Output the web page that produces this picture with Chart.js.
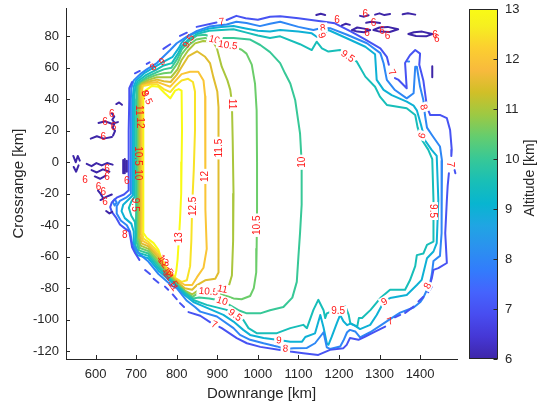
<!DOCTYPE html>
<html>
<head>
<meta charset="utf-8">
<title>Altitude contours</title>
<script src="https://cdn.jsdelivr.net/npm/chart.js@4.4.1/dist/chart.umd.min.js"></script>
<style>
  html, body { margin: 0; padding: 0; background: #fff; }
  #wrap { position: relative; width: 539px; height: 409px; overflow: hidden; }
  #wrap canvas { position: absolute; top: 0; }
  #plot { left: 0; }
  #cbar { left: 440px; }
</style>
</head>
<body>
<div id="wrap">
  <canvas id="plot" width="539" height="409"></canvas>
  <canvas id="cbar" width="99" height="409"></canvas>
</div>
<script>
// axes
const xRange = [527, 1491];
const yRange = [-125, 98];
const xTicks = [600, 700, 800, 900, 1000, 1100, 1200, 1300, 1400];
const yTicks = [-120, -100, -80, -60, -40, -20, 0, 20, 40, 60, 80];
const colorTicks = [6, 7, 8, 9, 10, 11, 12, 13];
const levels = [6, 7, 8, 9, 9.5, 10, 10.5, 11, 11.5, 12, 12.5, 13];

// contour paths, [downrange km, crossrange km]; null breaks a path
const lv6Left = [
  [545,4],[551,0],[556,4],[561,1], null,
  [546,-3],[552,-6],[558,-2], null,
  [578,-1],[590,-2.5],[602,-0.5],[615,-2],[628,-0.5],[642,-1.5], null,
  [590,-5],[603,-6.5],[618,-4.5],[634,-6], null,
  [598,-9],[611,-10.5],[625,-8.5], null,
  [588,15],[603,16.5],[620,15],[640,16], null,
  [607,25],[624,26],[640,24.5],[655,25.5], null,
  [640,31],[646,29],[641,27],[647,25],[642,22],[648,20],[643,17], null,
  [651,37],[658,38],[665,36.5], null,
  [668,1.5],[668,-7], null,
  [672,2],[672,-7], null,
  [677,1],[677,-6], null,
  [606,-18],[612,-20],[617,-22], null,
  [612,-24],[626,-22],[640,-20.5], null,
  [626,-31],[634,-32.5],[641,-31.5]
];
const lv6Top = [
  [1144,93.5],[1155,94.3],[1166,93.6], null,
  [1207,87],[1217,88],[1227,87.3], null,
  [1252,93],[1262,92.5],[1273,93.4], null,
  [1289,93.8],[1300,94.6],[1312,93.5],[1326,94.2], null,
  [1357,94],[1370,94.6],[1388,93.8], null,
  [1267,88.6],[1280,89.2],[1301,88.4], null,
  [1232,84],[1245,85.6],[1262,84.9],[1277,84],[1262,82.6],[1245,83],[1232,84], null,
  [1285,84],[1300,85.6],[1320,86],[1346,84.5],[1325,82.8],[1300,83],[1285,84], null,
  [1371,81.5],[1385,82.6],[1405,83],[1430,81.5],[1415,80],[1390,80.2],[1371,81.5], null,
  [1430,61],[1430,54]
];
const lv7 = [
  [683,40],[683,47],[690,51], null,
  [697,56.5],[709,58], null,
  [726,62.5],[733,63.5], null,
  [767,72],[784,75], null,
  [808,80.3],[825,82.3], null,
  [849,86],[898,88.8], null,
  [923,90.4],[947,93],[970,91.5],[1000,90.5],[1030,92.5],[1055,92.8],[1100,91.5],[1150,89.8],[1190,88.3],[1230,83],[1260,78.7],[1302,72.4],[1318,67],[1323,62], null,
  [1338,53.5],[1347,52.3],[1367,47],[1363,63],[1375,68],[1388,71.3],[1400,69],[1398,62],[1408,52],[1417,35],[1425,30],[1450,30],[1466,28],[1474,20.5],[1478,8],[1477,4], null,
  [1471,-7],[1468,-15],[1466,-24],[1462,-45],[1466,-64],[1445,-67.3],[1433,-68.4],[1429,-73.6],[1426,-76], null,
  [1429,-79],[1420,-82.5], null,
  [1408,-85.5],[1396,-88.5], null,
  [1384,-91.7],[1363,-95.7], null,
  [1351,-97],[1338,-98.5], null,
  [1314,-104.4],[1289,-107.6],[1265,-110.7],[1248,-112.8],[1227,-111.7],[1219,-116],[1211,-118.1],[1178,-119.2],[1149,-122.4],[1112,-121.3],[1080,-120.3],[1063,-119.6],[1006,-117.3],[973,-115],[948,-111.7],[911,-105.4],[905,-104.6], null,
  [882,-101.6],[858,-97.5],[829,-95.2], null,
  [818,-92],[808,-89.5], null,
  [800,-87],[790,-84], null,
  [779,-81],[771,-79], null,
  [755,-76.5],[743,-74], null,
  [734,-71],[722,-68.5], null,
  [708,-62],[698,-58],[690,-54],[686,-48],[683,-44],[672,-42],[660,-39.5],[650,-35],[640,-31.5],[636,-28.5],[640,-25.5],[652,-22.5],[670,-20.5],[681,-18],[681,0],[682,20],[683,40]
];
const lv7Dots = [[1485,-5],[1487,-7]];
const lv8 = [
  [687,40],[688,47],[694,52],[710,56],[726,59],[751,63],[784,71.3],[800,75.6],[825,79.8],[850,83.5],[880,86.2],[923,87.5],[947,89.3],[972,88.5],[1005,86.5],[1030,88],[1055,89.3],[1100,86],[1137,84],[1160,85.5],[1178,85.2],[1220,81],[1269,75.6],[1302,69.3],[1310,62.9],[1318,52.3],[1338,45.9],[1367,40.6],[1384,43.8],[1388,60.7],[1392,60.7],[1400,47.9],[1408,39.6],[1412,30],[1417,22],[1430,17],[1449,10],[1454,1],[1454,-24],[1452,-45],[1449,-59.5],[1433,-62.7],[1429,-71],[1425,-76.4],[1417,-81],[1408,-86],[1400,-89],[1384,-92.3],[1351,-95.5],[1326,-99.7],[1301,-104],[1277,-108],[1252,-111.3],[1240,-107.5],[1227,-106.5],[1220,-108],[1211,-113.3],[1203,-117],[1178,-118.6],[1170,-117.6],[1162,-108],[1154,-110.7],[1141,-115],[1121,-118],[1088,-118.1],[1067,-118.6],[1047,-117],[1014,-115],[981,-112.8],[956,-109.7],[940,-105.4],[899,-98],[858,-94.9],[845,-92],[825,-88],[800,-80],[788,-78.5],[755,-71],[730,-63.1],[706,-57.8],[690,-51.5],[685,-44],[677,-40],[662,-37],[652,-32.5],[652,-28],[660,-24.5],[675,-22.5],[687,-20],[687,0],[687,40]
];
const lv8Extra = [[642,-25],[647,-23.5],[652,-25.5],[647,-27.5],[642,-25], null, [1370,64],[1373,64]];
const lv9 = [
  [692,40],[692,42],[694,48],[700,52],[722,57],[745,60.5],[768,64],[790,67],[806,73],[812,76],[830,80.5],[850,82.5],[880,85],[910,86],[940,86.5],[970,85],[1000,83.5],[1030,83],[1055,84],[1100,83],[1133,81.9],[1145,79.7],[1158,80.8],[1174,84],[1200,81],[1230,77.5],[1265,73.4],[1289,68.6],[1293,52.3],[1310,46],[1330,42.7],[1367,38.5],[1384,36],[1392,33],[1402,24],[1412,14],[1428,8],[1441,4],[1445,-24],[1441,-51.4],[1433,-56.7],[1417,-61],[1404,-74.7],[1392,-78],[1367,-84.3],[1326,-86.3],[1312,-88],[1293,-97],[1277,-103.3],[1252,-106],[1240,-104],[1228,-102.5],[1220,-103.5],[1211,-101],[1203,-97],[1195,-102],[1182,-111],[1174,-116],[1170,-115],[1162,-105],[1154,-97],[1141,-108.7],[1117,-111],[1109,-114],[1080,-114],[1052,-113],[1014,-111.7],[981,-109.7],[964,-106.5],[940,-101.2],[915,-97],[866,-91.6],[841,-88.8],[820,-84.5],[796,-78.1],[776,-73.7],[755,-68.9],[730,-61],[703,-59],[694,-54],[694,-44],[688,-39],[672,-35.5],[664,-31],[668,-27],[680,-24],[692,-21],[692,0],[692,40]
];
const lv9_5 = [
  [696,40],[696,43],[698,48],[704,51.5],[725,55.5],[748,58.5],[768,61.5],[788,63],[803,69],[812,73.5],[829,78],[850,81.5],[880,83.5],[910,84],[940,84.5],[970,82.5],[1000,80.5],[1030,79],[1055,80],[1104,75],[1133,71.3],[1145,76.6],[1158,72.4],[1174,70.3],[1203,71.3],[1223,67],[1244,63.9],[1265,54.4],[1289,48],[1301,41.7],[1318,36.4],[1367,34.3],[1388,30],[1394,22],[1405,14],[1420,8],[1430,2],[1433,-24],[1433,-50.4],[1417,-52.5],[1408,-58],[1392,-59],[1388,-66],[1375,-75],[1363,-81],[1326,-81],[1302,-86.3],[1278,-93.8],[1257,-99],[1249,-99],[1245,-104.4],[1228,-102.2],[1224,-97],[1216,-91.6],[1198,-94.4],[1180,-95],[1170,-96],[1166,-99],[1162,-94],[1149,-87.4],[1137,-93.8],[1121,-105.4],[1112,-103.3],[1080,-105.4],[1047,-108.6],[997,-108.6],[977,-105.4],[964,-100.1],[944,-97],[923,-93.8],[874,-90.6],[841,-87.5],[820,-83.3],[796,-77.5],[776,-72.9],[755,-67.2],[730,-59.5],[705,-57.5],[697,-52],[699,-46],[697,-38],[688,-34],[682,-29],[688,-25],[696,-22],[696,0],[696,40]
];
const lv10 = [
  [700,40],[700,44],[702,48.5],[708,51],[728,54.5],[749,57],[768,59],[787,60],[802,66],[812,71.5],[830,77],[850,80.5],[870,81],[894,78.5],[910,79],[940,79],[980,78],[1006,74.5],[1030,70],[1055,63],[1067,56.5],[1080,50],[1092,39.6],[1104,18.4],[1108,0],[1108,-27],[1104,-45],[1100,-60],[1096,-76],[1085,-86],[1063,-92],[1030,-94],[1006,-96],[973,-96],[952,-94],[932,-91],[912,-88],[880,-86.5],[855,-86],[840,-86.5],[820,-82.8],[796,-76.9],[776,-72.1],[755,-65.6],[730,-58],[707,-56],[699,-49],[700,-30],[700,0],[700,40]
];
const lv10_5 = [
  [703,40],[703,45],[705,49],[711,51],[730,53.5],[750,55.5],[768,56.5],[786,57],[802,63],[812,68.5],[830,74.5],[848,78],[870,79],[900,76],[926,74.5],[945,73],[960,71.5],[972,69],[985,62],[993,50],[997,33],[998,0],[998,-30],[997,-55],[996,-70],[990,-80],[981,-85],[960,-87],[940,-86.5],[923,-85],[903,-83],[878,-82],[853,-83],[839,-85.5],[820,-82],[796,-76.3],[776,-71.3],[755,-64],[730,-56.5],[709,-54.5],[702,-48],[703,-30],[703,0],[703,40]
];
const lv11 = [
  [706,40],[706,45.5],[708,49.5],[714,50.5],[732,52.5],[751,54],[768,54],[786,54],[802,59],[812,65],[828,71],[845,75.5],[865,77],[890,76.6],[899,72.4],[911,60.7],[925,52],[932,46],[936,38],[938,14],[940,-20],[939,-50],[936,-72],[928,-79],[913,-81],[880,-80],[852,-81.5],[838,-84],[820,-81.5],[796,-75.6],[776,-70.5],[755,-62.3],[730,-55],[711,-53],[705,-47],[706,-30],[706,0],[706,40]
];
const lv11_5 = [
  [709,40],[709,46],[711,49.5],[716,50],[734,51.5],[752,52.5],[768,51.5],[785,51],[800,55.5],[812,60.5],[829,67.5],[850,70.5],[870,67],[882,63],[890,54.4],[900,45],[903,35],[903,10],[903,-20],[903,-50],[903,-70],[895,-74],[870,-75],[850,-78],[838,-81],[820,-80],[796,-74.9],[776,-69.7],[755,-60.6],[730,-53.5],[713,-51.5],[708,-46],[709,-30],[709,0],[709,40]
];
const lv12 = [
  [712,40],[712,46.5],[714,49],[718,49.5],[736,50.5],[752,51],[768,49.5],[784,48],[798,52],[812,56],[833,57.5],[853,57.5],[866,52],[870,42],[870,10],[870,-9],[872,-30],[874,-55],[866,-67],[850,-73],[838,-78],[820,-78],[796,-74.2],[776,-69],[755,-59],[730,-52],[716,-50],[711,-45],[712,-30],[712,0],[712,40]
];
const lv12_5 = [
  [715,40],[715,46.5],[717,48.5],[738,49.5],[752,49.5],[768,46.5],[784,44.6],[797,48.5],[812,52],[828,53],[840,51],[845,45],[845,20],[842,-5],[838,-28],[836,-50],[833,-66],[825,-75],[812,-76],[796,-73.5],[776,-68.3],[755,-57.3],[730,-50.5],[718,-48.5],[714,-44],[715,-30],[715,0],[715,40]
];
const lv13 = [
  [718,40],[720,45],[739,48.5],[755,48],[770,44],[784,40.6],[796,45.5],[805,46.5],[812,45.5],[813,20],[812,0],[811,-20],[808,-37],[805,-50],[802,-62],[799,-69],[796,-72.6],[788,-71.6],[776,-67.3],[763,-62],[755,-55.7],[743,-51.4],[726,-48],[718,-45],[717,-30],[718,0],[718,40]
];

const contourPaths = {
  6: [lv6Left, lv6Top],
  7: [lv7, lv7Dots],
  8: [lv8, lv8Extra],
  9: [lv9],
  9.5: [lv9_5],
  10: [lv10],
  10.5: [lv10_5],
  11: [lv11],
  11.5: [lv11_5],
  12: [lv12],
  12.5: [lv12_5],
  13: [lv13]
};

// inline contour labels: level, x km, y km, rotation (deg), clear line under text
const labelSpots = [
  [7, 911, 89.5, -6, 0], [7, 1331, 57, 62, 0], [7, 1474, -1.5, 90, 0], [7, 1326, -101, -22, 0], [7, 893, -103, 24, 0],
  [8, 742, 60.5, -35, 0], [8, 1160, 85.5, -5, 1], [8, 1409, 35, 75, 1], [8, 1418, -78.5, -62, 1], [8, 1068, -118.3, 3, 1],
  [9, 764, 64, -30, 0], [9, 1158, 80.5, 70, 1], [9, 1404, 17, 110, 1], [9, 1312, -88.5, -30, 1], [9, 1052, -113, 2, 1],
  [9.5, 829, 77, -60, 0], [9.5, 1222, 67.5, 35, 1], [9.5, 1432, -31, 90, 1], [9.5, 1198, -94.4, 0, 1], [9.5, 944, -97, 35, 1], [9.5, 697, -27, 90, 0],
  [10, 893, 78, 15, 1], [10, 1109, 0, -90, 1], [10, 912, -88, 18, 1], [10, 704, -8, 90, 0],
  [10.5, 926, 74.5, 8, 1], [10.5, 998, -40, -90, 1], [10.5, 878, -82, 5, 1], [10.5, 704, 4, 90, 0],
  [11, 937, 37, 90, 1], [11, 913, -80.5, 12, 1], [11, 707, 33, 90, 0],
  [11.5, 903, 9, -90, 1],
  [12, 870, -9, -90, 1], [12, 711, 25, 90, 0],
  [12.5, 839, -28, -90, 1],
  [13, 806, -48, -90, 1],
  [13, 767, -62, 55, 0], [12.5, 773, -66, 55, 0], [12, 779, -70, 55, 0], [11.5, 785, -74, 55, 0], [11, 792, -78.5, 55, 0],
  [9.5, 727, 41, 65, 0], [8, 722, 44, 65, 0], [8, 672, -46, 0, 0],
  [6, 640, 31, 0, 0], [6, 623, 26, 0, 0], [6, 644, 22.5, 0, 0], [6, 619, 16, 0, 0], [6, 574, -11, 0, 0],
  [6, 607, -15.5, 0, 0], [6, 619, -19, 0, 0], [6, 623, -25, 0, 0], [6, 677, -12, 0, 0], [6, 628, -4, 0, 0], [6, 628, -9, 0, 0],
  [6, 1195, 90.4, 0, 0], [6, 1265, 94.2, 0, 0], [6, 1285, 88.7, 0, 0], [6, 1269, 82.3, 0, 0], [6, 1306, 83.6, 0, 0],
  [6, 1320, 80.4, 0, 0], [6, 1437, 81, 0, 0], [6, 1441, 78.5, 0, 0]
];

// parula colormap samples: position, r, g, b
const parulaStops = [
  [0.000, 62, 38, 168], [0.063, 69, 55, 213], [0.127, 72, 77, 240], [0.190, 69, 99, 253],
  [0.254, 50, 124, 252], [0.317, 43, 145, 239], [0.381, 32, 165, 227], [0.444, 8, 181, 208],
  [0.508, 25, 191, 182], [0.571, 55, 200, 151], [0.635, 100, 205, 111], [0.698, 157, 201, 67],
  [0.762, 209, 191, 39], [0.825, 248, 186, 61], [0.889, 252, 207, 48], [0.952, 246, 239, 32],
  [1.000, 249, 251, 21]
];

const ink = '#262626';
const labelRed = 'rgb(255,25,25)';
Chart.defaults.font.family = '"Liberation Sans", Arial, Helvetica, sans-serif';
Chart.defaults.color = ink;

function parula(t) {
  t = Math.min(1, Math.max(0, t));
  for (let i = 1; i < parulaStops.length; i++) {
    const a = parulaStops[i - 1], b = parulaStops[i];
    if (t <= b[0]) {
      const f = (t - a[0]) / (b[0] - a[0]);
      const c = [1, 2, 3].map(k => Math.round(a[k] + (b[k] - a[k]) * f));
      return `rgb(${c[0]},${c[1]},${c[2]})`;
    }
  }
  return 'rgb(249,251,21)';
}
const cMin = colorTicks[0], cMax = colorTicks[colorTicks.length - 1];
const levelColor = v => parula((v - cMin) / (cMax - cMin));

function toPoints(path) {
  return path.map(p => p ? { x: p[0], y: p[1] } : { x: 0, y: null });
}

// keep tick labels from pushing the plot box inward
function noEdgePadding(s) {
  s.paddingTop = 0;
  s.paddingBottom = 0;
  s.paddingLeft = 0;
  s.paddingRight = 0;
}

const datasets = [];
levels.forEach(lv => {
  contourPaths[lv].forEach(path => {
    datasets.push({
      data: toPoints(path),
      showLine: true,
      spanGaps: false,
      borderColor: levelColor(lv),
      borderWidth: 2,
      borderJoinStyle: 'round',
      borderCapStyle: 'round',
      pointRadius: 0,
      pointHoverRadius: 0,
      tension: 0
    });
  });
});

const inwardTicks = {
  id: 'inwardTicks',
  afterDraw(chart) {
    const { ctx, chartArea: a, scales: { x, y } } = chart;
    ctx.save();
    ctx.strokeStyle = ink;
    ctx.lineWidth = 1;
    ctx.beginPath();
    x.ticks.forEach(t => {
      const px = Math.round(x.getPixelForValue(t.value)) + 0.5;
      ctx.moveTo(px, a.bottom);
      ctx.lineTo(px, a.bottom - 4);
    });
    y.ticks.forEach(t => {
      const py = Math.round(y.getPixelForValue(t.value)) + 0.5;
      ctx.moveTo(a.left, py);
      ctx.lineTo(a.left + 4, py);
    });
    ctx.stroke();
    ctx.restore();
  }
};

const contourLabels = {
  id: 'contourLabels',
  afterDatasetsDraw(chart) {
    const { ctx, scales: { x, y } } = chart;
    ctx.save();
    ctx.font = '10px "Liberation Sans", Arial, sans-serif';
    ctx.textAlign = 'center';
    ctx.textBaseline = 'middle';
    labelSpots.forEach(([lv, kx, ky, ang, clear]) => {
      const txt = String(lv);
      ctx.save();
      ctx.translate(x.getPixelForValue(kx), y.getPixelForValue(ky));
      ctx.rotate(ang * Math.PI / 180);
      if (clear) {
        const w = ctx.measureText(txt).width;
        ctx.fillStyle = '#fff';
        ctx.fillRect(-w / 2 - 2, -5, w + 4, 10);
      }
      ctx.fillStyle = labelRed;
      ctx.fillText(txt, 0, 0.5);
      ctx.restore();
    });
    ctx.restore();
  }
};

new Chart(document.getElementById('plot'), {
  type: 'scatter',
  data: { datasets },
  options: {
    responsive: false,
    animation: false,
    events: [],
    layout: { padding: { top: 8, right: 82, bottom: 0, left: 0 } },
    plugins: { legend: { display: false }, tooltip: { enabled: false } },
    scales: {
      x: {
        type: 'linear',
        min: xRange[0],
        max: xRange[1],
        afterBuildTicks: s => { s.ticks = xTicks.map(v => ({ value: v })); },
        afterFit: s => { s.height = 50; noEdgePadding(s); },
        grid: { display: false, drawTicks: false },
        border: { display: true, color: ink, width: 1 },
        ticks: { color: ink, font: { size: 13 }, padding: 8, maxRotation: 0, autoSkip: false, callback: v => String(v) },
        title: { display: true, text: 'Downrange [km]', color: ink, font: { size: 15 }, padding: { top: 0, bottom: 6 } }
      },
      y: {
        type: 'linear',
        min: yRange[0],
        max: yRange[1],
        afterBuildTicks: s => { s.ticks = yTicks.map(v => ({ value: v })); },
        afterFit: s => { s.width = 66; noEdgePadding(s); },
        grid: { display: false, drawTicks: false },
        border: { display: true, color: ink, width: 1 },
        ticks: { color: ink, font: { size: 13 }, padding: 7, autoSkip: false, callback: v => String(v) },
        title: { display: true, text: 'Crossrange [km]', color: ink, font: { size: 15 }, padding: { top: 10, bottom: 0 } }
      }
    }
  },
  plugins: [inwardTicks, contourLabels]
});

// colour bar
const cbarFrame = {
  id: 'cbarFrame',
  afterDraw(chart) {
    const { ctx, chartArea: a, scales: { y } } = chart;
    ctx.save();
    ctx.strokeStyle = ink;
    ctx.lineWidth = 1;
    const l = Math.round(a.left) + 0.5, r = Math.round(a.right) - 0.5;
    const t = Math.round(a.top) + 0.5, b = Math.round(a.bottom) - 0.5;
    ctx.strokeRect(l, t, r - l, b - t);
    ctx.beginPath();
    y.ticks.forEach(tk => {
      const py = Math.round(y.getPixelForValue(tk.value)) + 0.5;
      ctx.moveTo(r - 4, py);
      ctx.lineTo(r, py);
    });
    ctx.stroke();
    ctx.fillStyle = ink;
    ctx.font = '14px "Liberation Sans", Arial, sans-serif';
    ctx.textAlign = 'center';
    ctx.textBaseline = 'middle';
    ctx.translate(90, (a.top + a.bottom) / 2 - 6);
    ctx.rotate(-Math.PI / 2);
    ctx.fillText('Altitude [km]', 0, 0);
    ctx.restore();
  }
};

new Chart(document.getElementById('cbar'), {
  type: 'bar',
  data: {
    labels: [''],
    datasets: [{
      data: [[cMin, cMax]],
      borderWidth: 0,
      barPercentage: 1,
      categoryPercentage: 1,
      backgroundColor: c => {
        const a = c.chart.chartArea;
        if (!a) return 'rgba(0,0,0,0)';
        const g = c.chart.ctx.createLinearGradient(0, a.bottom, 0, a.top);
        parulaStops.forEach(s => g.addColorStop(s[0], `rgb(${s[1]},${s[2]},${s[3]})`));
        return g;
      }
    }]
  },
  options: {
    responsive: false,
    animation: false,
    events: [],
    layout: { padding: { top: 9, right: 0, bottom: 50, left: 29 } },
    plugins: { legend: { display: false }, tooltip: { enabled: false } },
    scales: {
      x: { display: false },
      y: {
        position: 'right',
        min: cMin,
        max: cMax,
        afterBuildTicks: s => { s.ticks = colorTicks.map(v => ({ value: v })); },
        afterFit: s => { s.width = 41; noEdgePadding(s); },
        grid: { display: false, drawTicks: false },
        border: { display: false },
        ticks: { color: ink, font: { size: 13 }, padding: 7, callback: v => String(v) }
      }
    }
  },
  plugins: [cbarFrame]
});
</script>
</body>
</html>
